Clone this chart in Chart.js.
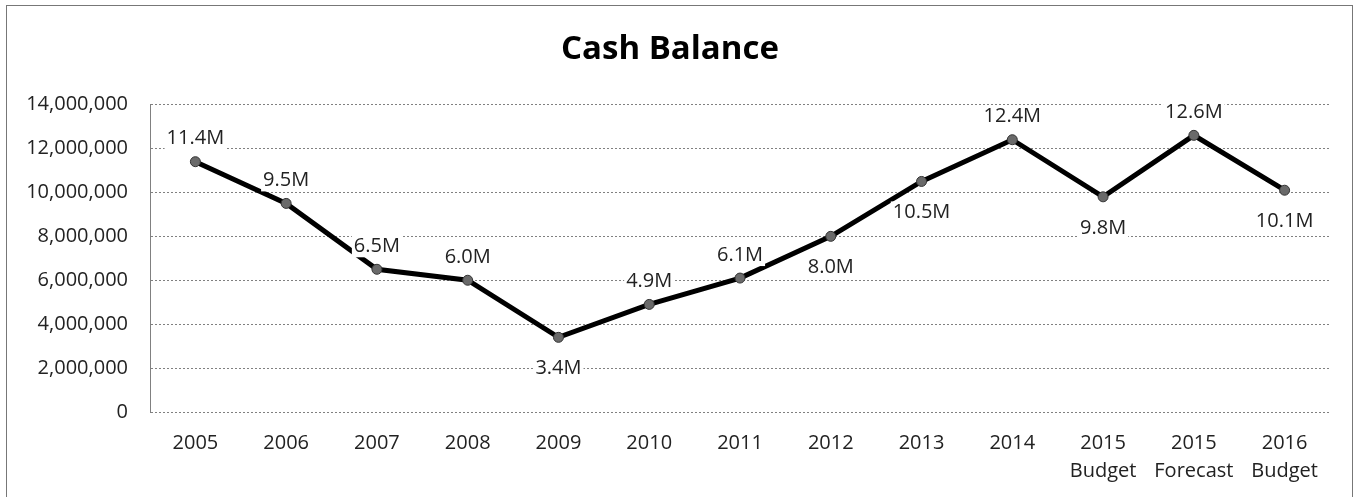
<!DOCTYPE html>
<html>
<head>
<meta charset="utf-8">
<script src="https://cdn.jsdelivr.net/npm/chart.js@4.4.1/dist/chart.umd.min.js"></script>
<style>
  html, body { margin: 0; padding: 0; background: #fff; overflow: hidden; }
  #wrap { position: relative; width: 1359px; height: 497px; }
  #frame {
    position: absolute; left: 6px; top: 5px; width: 1345px; height: 520px;
    border: 1px solid #777; pointer-events: none;
  }
</style>
</head>
<body>
<div id="wrap">
  <canvas id="myChart" width="1359" height="497"></canvas>
  <div id="frame"></div>
</div>
<script>
    // 年度ラベル（2行目は予算・見込み）
    const labels = [
        "2005", "2006", "2007", "2008", "2009", "2010", "2011", "2012", "2013", "2014",
        ["2015", "Budget"], ["2015", "Forecast"], ["2016", "Budget"]
    ];
    // 現金残高
    const cashBalance = [
        11400000, 9500000, 6500000, 6000000, 3400000, 4900000, 6100000,
        8000000, 10500000, 12400000, 9800000, 12600000, 10100000
    ];
    // Y軸の目盛り
    const yTicks = [0, 2000000, 4000000, 6000000, 8000000, 10000000, 12000000, 14000000];
    // 値ラベルの位置（上 / 下）
    const labelSide = [
        "above", "above", "above", "above", "below", "above", "above",
        "below", "below", "above", "below", "above", "below"
    ];

    const FONT = "'Open Sans', 'DejaVu Sans', sans-serif";

    // 各点の値ラベル（白背景付き）
    const valueLabels = {
        id: "valueLabels",
        afterDatasetsDraw(chart) {
            const ctx = chart.ctx;
            const meta = chart.getDatasetMeta(0);
            const data = chart.data.datasets[0].data;
            ctx.save();
            ctx.font = "20px " + FONT;
            ctx.textAlign = "center";
            ctx.textBaseline = "middle";
            meta.data.forEach((pt, i) => {
                const text = (data[i] / 1000000).toFixed(1) + "M";
                const y = labelSide[i] === "above" ? pt.y - 23 : pt.y + 31;
                const w = ctx.measureText(text).width;
                ctx.fillStyle = "#fff";
                ctx.fillRect(pt.x - w / 2 - 2, y - 11, w + 4, 22);
                ctx.fillStyle = "#222";
                ctx.fillText(text, pt.x, y);
            });
            ctx.restore();
        }
    };

    const ctx = document.getElementById("myChart");
    const myChart = new Chart(ctx, {
        type: "line",
        data: {
            labels: labels,
            datasets: [{
                label: "Cash Balance",
                data: cashBalance,
                borderColor: "#000",
                borderWidth: 5,
                pointRadius: 5,
                pointBackgroundColor: "#6a6a6a",
                pointBorderColor: "#333",
                pointBorderWidth: 1,
                tension: 0
            }]
        },
        options: {
            responsive: false,
            animation: false,
            layout: { padding: { left: 10, right: 29, top: 0, bottom: 0 } },
            plugins: {
                legend: { display: false },
                tooltip: { enabled: false },
                title: {
                    display: true,
                    text: "Cash Balance",
                    color: "#000",
                    font: { family: FONT, size: 33, weight: "bold" },
                    padding: { top: 30, bottom: 35 }
                }
            },
            scales: {
                x: {
                    offset: true,
                    grid: { display: false, drawTicks: false },
                    border: { display: false },
                    ticks: {
                        color: "#222",
                        font: { family: FONT, size: 20, lineHeight: 1.4 },
                        padding: 17,
                        maxRotation: 0,
                        autoSkip: false
                    },
                    afterFit(scale) { scale.height = 85; }
                },
                y: {
                    min: 0,
                    max: 14000000,
                    afterBuildTicks(scale) { scale.ticks = yTicks.map(v => ({ value: v })); },
                    // 点線のグリッドと軸線
                    grid: { color: "#808080", lineWidth: 1, drawTicks: false },
                    border: { display: true, color: "#808080", dash: [2, 2] },
                    ticks: {
                        color: "#222",
                        font: { family: FONT, size: 20 },
                        padding: 22,
                        callback: v => v.toLocaleString("en-US")
                    },
                    afterFit(scale) { scale.width = 140; }
                }
            }
        },
        plugins: [valueLabels]
    });
</script>
</body>
</html>
